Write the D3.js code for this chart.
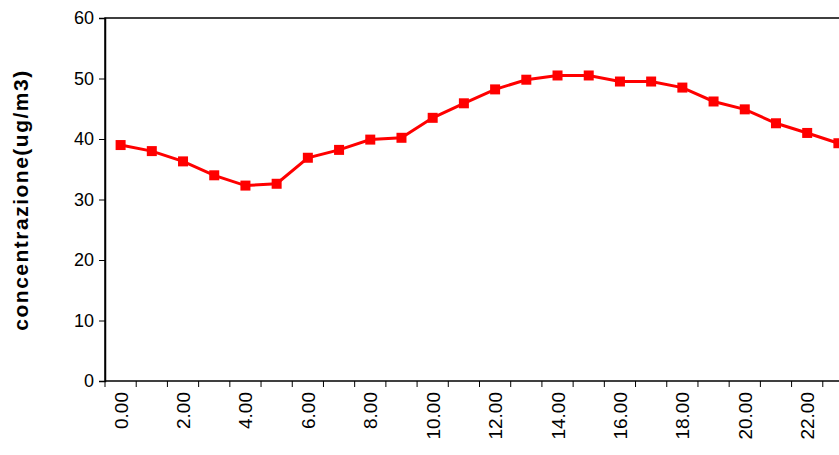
<!DOCTYPE html>
<html><head><meta charset="utf-8">
<script src="https://cdn.jsdelivr.net/npm/d3@7"></script>
<style>body{margin:0;background:#fff;} svg text{font-family:"Liberation Sans",Arial,sans-serif;}</style>
</head><body><div id="chart"></div>
<script>
var hours = d3.range(0, 24);
var hourLabels = hours.map(h => h + ".00");
var concentrations = [39, 38, 36.3, 34, 32.3, 32.6, 36.9, 38.2, 39.9, 40.2, 43.5, 45.9,
  48.2, 49.8, 50.5, 50.5, 49.5, 49.5, 48.5, 46.2, 44.9, 42.6, 41, 39.3];
var yTicks = [0, 10, 20, 30, 40, 50, 60];

var margin = {top: 18, left: 105};
var plotW = 749, plotH = 363;

var svg = d3.select("#chart").append("svg").attr("width", 839).attr("height", 455);
var g = svg.append("g").attr("transform", `translate(${margin.left},${margin.top})`);

var x = d3.scaleBand().domain(hours).range([0, plotW]);
var y = d3.scaleLinear().domain([0, 60]).range([plotH, 0]);

g.append("rect").attr("width", plotW).attr("height", plotH)
  .attr("fill", "none").attr("stroke", "#000").attr("stroke-width", 1.5);

var yAxis = g.append("g").call(d3.axisLeft(y).tickValues(yTicks).tickSize(6).tickFormat(d3.format("d")));
yAxis.select(".domain").attr("stroke-width", 1.5);
yAxis.selectAll("text").attr("font-size", 18).attr("fill", "#000").attr("dx", -2)
  .style("font-family", "'Liberation Sans', Arial, sans-serif");

// tick marks at category boundaries
var xAxis = g.append("g").attr("transform", `translate(0,${plotH})`);
xAxis.selectAll("line").data(d3.range(0, 25)).enter().append("line")
  .attr("x1", d => d * x.bandwidth()).attr("x2", d => d * x.bandwidth())
  .attr("y1", 0).attr("y2", 6).attr("stroke", "#000");
xAxis.selectAll("text").data(hours.filter(h => h % 2 === 0)).enter().append("text")
  .attr("transform", d => `translate(${x(d) + x.bandwidth() / 2 + 7},${11}) rotate(-90)`)
  .attr("text-anchor", "end").attr("font-size", 19).text(d => hourLabels[d]);

svg.append("text").attr("transform", `translate(28,${margin.top + 182}) rotate(-90)`)
  .attr("text-anchor", "middle").attr("font-size", 21).attr("font-weight", "bold")
  .attr("letter-spacing", 1.5)
  .text("concentrazione(ug/m3)");

var line = d3.line().x((d, i) => x(i) + x.bandwidth() / 2).y(d => y(d));
g.append("path").datum(concentrations).attr("d", line)
  .attr("fill", "none").attr("stroke", "#ff0000").attr("stroke-width", 3);
g.selectAll(".pt").data(concentrations).enter().append("rect")
  .attr("x", (d, i) => x(i) + x.bandwidth() / 2 - 5).attr("y", d => y(d) - 5)
  .attr("width", 10).attr("height", 10).attr("fill", "#ff0000");
</script></body></html>
